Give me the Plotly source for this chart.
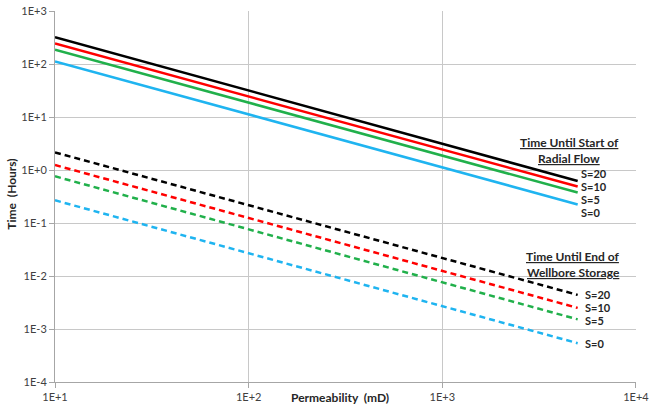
import numpy as np
import plotly.graph_objects as go

# Permeability (mD)
perm = [10, 5000]

# Time until start of radial flow (hours), solid lines
radial_s20 = [320, 0.62]
radial_s10 = [243, 0.487]
radial_s5 = [186, 0.375]
radial_s0 = [112, 0.224]

# Time until end of wellbore storage (hours), dashed lines
wbs_s20 = [2.15, 0.0044]
wbs_s10 = [1.24, 0.0025]
wbs_s5 = [0.76, 0.00152]
wbs_s0 = [0.268, 0.00054]

skin_labels = ["S=20", "S=10", "S=5", "S=0"]
colors = ["#000000", "#ff0000", "#21b04b", "#1fb4f0"]

x_ticks = [10, 100, 1000, 10000]
x_ticktext = ["1E+1", "1E+2", "1E+3", "1E+4"]
y_ticks = [1e3, 1e2, 1e1, 1e0, 1e-1, 1e-2, 1e-3, 1e-4]
y_ticktext = ["1E+3", "1E+2", "1E+1", "1E+0", "1E-1", "1E-2", "1E-3", "1E-4"]

fig = go.Figure()
for vals, col, lab in zip([radial_s20, radial_s10, radial_s5, radial_s0], colors, skin_labels):
    fig.add_trace(go.Scatter(x=perm, y=vals, mode="lines", name="Radial " + lab,
                             line=dict(color=col, width=2.5)))
for vals, col, lab in zip([wbs_s20, wbs_s10, wbs_s5, wbs_s0], colors, skin_labels):
    fig.add_trace(go.Scatter(x=perm, y=vals, mode="lines", name="WBS " + lab,
                             line=dict(color=col, width=2.5, dash="6px,4px")))

font_lbl = dict(family="Lato, Open Sans, sans-serif", size=12, color="#262626")
font_s = dict(family="Lato, Open Sans, sans-serif", size=11, color="#262626")
ann = []
# radial flow labels
for lab, yp in zip(skin_labels, [0.5625, 0.5275, 0.4925, 0.4575]):
    ann.append(dict(xref="paper", yref="paper", x=0.903, y=yp, text="<b>%s</b>" % lab,
                    showarrow=False, xanchor="left", yanchor="middle", font=font_s,
                    borderpad=0))
for lab, yp in zip(skin_labels, [0.236, 0.201, 0.166, 0.105]):
    ann.append(dict(xref="paper", yref="paper", x=0.911, y=yp, text="<b>%s</b>" % lab,
                    showarrow=False, xanchor="left", yanchor="middle", font=font_s,
                    borderpad=0))
ann.append(dict(xref="paper", yref="paper", x=0.885, y=0.646, text="<b><u>Time Until Start of</u></b>",
                showarrow=False, xanchor="center", yanchor="middle", font=font_lbl, borderpad=0))
ann.append(dict(xref="paper", yref="paper", x=0.885, y=0.603, text="<b><u>Radial Flow</u></b>",
                showarrow=False, xanchor="center", yanchor="middle", font=font_lbl, borderpad=0))
ann.append(dict(xref="paper", yref="paper", x=0.892, y=0.339, text="<b><u>Time Until End of</u></b>",
                showarrow=False, xanchor="center", yanchor="middle", font=font_lbl, borderpad=0))
ann.append(dict(xref="paper", yref="paper", x=0.892, y=0.296, text="<b><u>Wellbore Storage</u></b>",
                showarrow=False, xanchor="center", yanchor="middle", font=font_lbl, borderpad=0))
# axis titles
ann.append(dict(xref="paper", yref="paper", x=0.491, y=-0.041, text="<b>Permeability  (mD)</b>",
                showarrow=False, xanchor="center", yanchor="middle", font=font_lbl))
ann.append(dict(xref="paper", yref="paper", x=-0.074, y=0.505, text="<b>Time  (Hours)</b>",
                showarrow=False, xanchor="center", yanchor="middle", textangle=-90, font=font_lbl))

tick_font = dict(family="Lato, Open Sans, sans-serif", size=11, color="#404040")
fig.update_layout(
    width=649, height=408,
    margin=dict(l=55, r=13, t=11, b=26, autoexpand=False),
    paper_bgcolor="white", plot_bgcolor="white",
    showlegend=False,
    annotations=ann,
    xaxis=dict(type="log", range=[1, 4.0002], tickvals=x_ticks, ticktext=x_ticktext,
               showgrid=True, gridcolor="#c8c8c8", gridwidth=1,
               showline=True, linecolor="#a6a6a6", linewidth=1,
               ticks="outside", ticklen=5, tickcolor="#a6a6a6", tickfont=tick_font,
               zeroline=False, automargin=False, ticklabeloverflow="allow"),
    yaxis=dict(type="log", range=[-4, 3], tickvals=y_ticks, ticktext=y_ticktext,
               showgrid=True, gridcolor="#c8c8c8", gridwidth=1,
               showline=True, linecolor="#a6a6a6", linewidth=1,
               ticks="outside", ticklen=5, tickcolor="#a6a6a6", tickfont=tick_font,
               zeroline=False, automargin=False),
)

fig.write_html("out.html")
